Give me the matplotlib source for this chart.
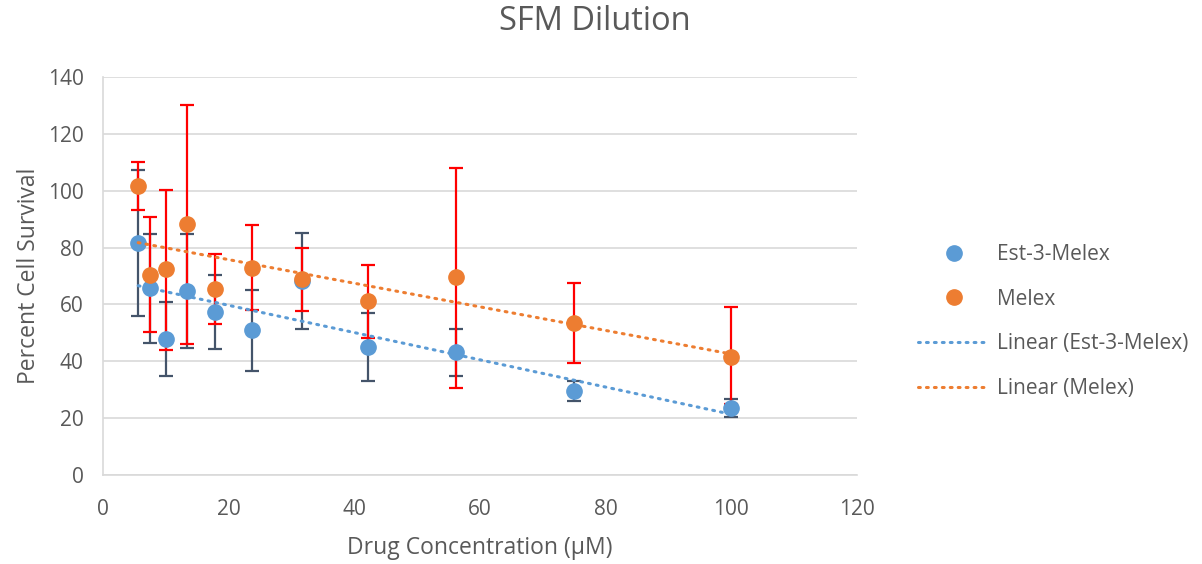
import numpy as np
import matplotlib
matplotlib.use("Agg")
import matplotlib.pyplot as plt
from matplotlib.lines import Line2D

plt.rcParams['font.family'] = ['Open Sans', 'DejaVu Sans']

conc = [5.6, 7.5, 10, 13.3, 17.8, 23.7, 31.6, 42.2, 56.2, 75, 100]

est_y = [81.7, 65.7, 48, 64.8, 57.5, 51, 68.3, 45.2, 43.1, 29.5, 23.7]
est_hi = [107.4, 84.8, 60.9, 84.8, 70.4, 65, 85.1, 56.9, 51.4, 33, 26.7]
est_lo = [55.8, 46.5, 35, 44.5, 44.3, 36.7, 51.4, 33.2, 35, 26, 20.4]

mel_y = [101.7, 70.5, 72.3, 88.2, 65.5, 72.9, 68.9, 61.2, 69.5, 53.4, 41.6]
mel_hi = [110, 90.6, 100.2, 130.2, 77.8, 87.8, 79.9, 73.8, 108.1, 67.4, 59.2]
mel_lo = [93.3, 50.3, 44, 46, 53, 57.9, 57.6, 48.3, 30.5, 39.5, 25]

BLUE = '#5B9BD5'
ORANGE = '#ED7D31'
TXT = '#595959'
DOT = (0, (0.6, 2.0))

fig = plt.figure(figsize=(12.02, 5.64), dpi=100)
ax = fig.add_axes([103/1202, 1-475/564, (857-103)/1202, (475-77)/564])

x = np.array(conc)
ey = np.array(est_y); my = np.array(mel_y)
ax.errorbar(x, ey, yerr=[ey-np.array(est_lo), np.array(est_hi)-ey], fmt='none',
            ecolor='#44546A', elinewidth=1.6, capsize=5, capthick=1.6, zorder=2)
ax.errorbar(x, my, yerr=[my-np.array(mel_lo), np.array(mel_hi)-my], fmt='none',
            ecolor='#FF0000', elinewidth=1.6, capsize=5, capthick=1.6, zorder=2.1)
ax.plot(x, ey, 'o', color=BLUE, ms=11, mec=BLUE, zorder=3)
ax.plot(x, my, 'o', color=ORANGE, ms=11, mec=ORANGE, zorder=3.1)

xs = np.array([x.min(), x.max()])
pb = np.polyfit(x, ey, 1)
po = np.polyfit(x, my, 1)
ax.plot(xs, np.polyval(pb, xs), color=BLUE, lw=2.2, ls=DOT,
        dash_capstyle='round', zorder=4)
ax.plot(xs, np.polyval(po, xs), color=ORANGE, lw=2.2, ls=DOT,
        dash_capstyle='round', zorder=4.1)

ax.set_xlim(0, 120)
ax.set_ylim(0, 140)
ax.set_xticks(np.arange(0, 121, 20))
ax.set_yticks(np.arange(0, 141, 20))
ax.grid(axis='y', color='#D9D9D9', lw=1.2)
ax.set_axisbelow(True)
for s in ['top', 'right']:
    ax.spines[s].set_visible(False)
for s in ['left', 'bottom']:
    ax.spines[s].set_color('#D9D9D9')
    ax.spines[s].set_linewidth(1.2)
ax.tick_params(length=0, labelsize=15, labelcolor=TXT)
ax.tick_params(axis='x', pad=17)
ax.tick_params(axis='y', pad=14)

ax.set_xlabel('Drug Concentration (\u03bcM)', fontsize=16.5, color=TXT, labelpad=12)
ax.set_ylabel('Percent Cell Survival', fontsize=16.5, color=TXT, labelpad=5)
fig.text(595/1202, 1-22/564, 'SFM Dilution', fontsize=23.5, color=TXT,
         ha='center', va='center')

handles = [
    Line2D([], [], ls='none', marker='o', color=BLUE, ms=11),
    Line2D([], [], ls='none', marker='o', color=ORANGE, ms=11),
    Line2D([], [], color=BLUE, lw=2.2, ls=DOT, dash_capstyle='round'),
    Line2D([], [], color=ORANGE, lw=2.2, ls=DOT, dash_capstyle='round'),
]
labels = ['Est-3-Melex', 'Melex', 'Linear (Est-3-Melex)', 'Linear (Melex)']
leg = fig.legend(handles, labels, loc='upper left', bbox_to_anchor=(912/1202, 1-238/564),
                 frameon=False, fontsize=15, labelspacing=1.13, handlelength=3.4,
                 handletextpad=0.4, borderaxespad=0, borderpad=0.3)
for t in leg.get_texts():
    t.set_color(TXT)

fig.savefig('out.png', dpi=100)
